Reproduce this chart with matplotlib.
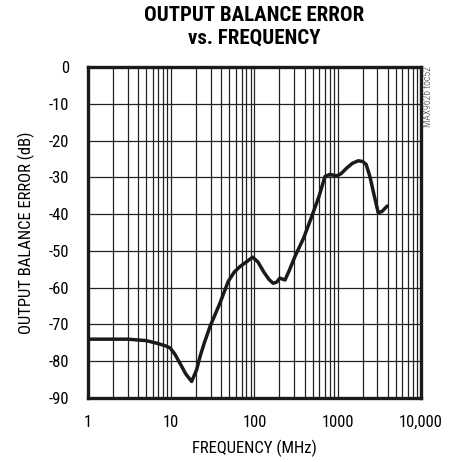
import matplotlib.pyplot as plt
from matplotlib.ticker import FixedLocator, NullFormatter

# Curve (frequency in MHz, error in dB)
freq_mhz = [1, 2, 3, 5, 6.7, 8.5, 9.7, 11, 12.7, 15, 17.6, 20.2, 22.2, 25, 29.2,
            38.5, 48.4, 57, 66.7, 80, 95, 110, 130, 150, 168, 185, 202, 233,
            260, 307, 390, 487, 600, 703, 807, 971, 1100, 1280, 1500, 1766,
            2000, 2200, 2440, 2750, 3070, 3400, 3940]
error_db = [-74, -74, -74, -74.4, -75.1, -75.8, -76.4, -78, -80.5, -83.5, -85.5,
            -82.3, -78.7, -75, -70.6, -64.2, -58.3, -55.8, -54.3, -53, -51.7,
            -53, -55.8, -57.8, -58.8, -58.5, -57.4, -57.9, -55.5, -51.5, -46.5,
            -40.7, -35, -29.8, -29.2, -29.6, -29, -27.5, -26.2, -25.5, -25.7,
            -26.5, -29.8, -35, -39.6, -39.3, -37.8]

x_tick_vals = [1, 10, 100, 1000, 10000]
x_tick_labels = ["1", "10", "100", "1000", "10,000"]
y_tick_vals = [0, -10, -20, -30, -40, -50, -60, -70, -80, -90]

plt.rcParams["font.family"] = ["Roboto Condensed", "DejaVu Sans"]
plt.rcParams["axes.unicode_minus"] = False

fig = plt.figure(figsize=(4.56, 4.62), dpi=100)
ax = fig.add_axes([0.193, 0.1385, 0.730, 0.7165])

ax.set_xscale("log")
ax.set_xlim(1, 10000)
ax.set_ylim(-90, 0)

# Full log grid: decade lines plus every minor line
ax.xaxis.set_minor_locator(FixedLocator([m * 10 ** d for d in range(4) for m in range(2, 10)]))
ax.xaxis.set_minor_formatter(NullFormatter())
ax.set_xticks(x_tick_vals)
ax.set_xticklabels(x_tick_labels)
ax.set_yticks(y_tick_vals)
ax.grid(True, which="both", axis="x", color="#222222", linewidth=0.9)
ax.grid(True, which="major", axis="y", color="#222222", linewidth=0.9)
ax.tick_params(which="both", length=0, labelsize=12)
ax.tick_params(axis="x", pad=12)
ax.tick_params(axis="y", pad=13.5)

for spine in ax.spines.values():
    spine.set_linewidth(2.4)
    spine.set_color("#1a1a1a")

ax.plot(freq_mhz, error_db, color="#1a1a1a", linewidth=2.5, solid_joinstyle="round",
        solid_capstyle="round", zorder=5)

ax.set_xlabel("FREQUENCY (MHz)", fontsize=12, labelpad=7)
ax.set_ylabel("OUTPUT BALANCE ERROR (dB)", fontsize=12, labelpad=10)

fig.text(0.558, 0.988, "OUTPUT BALANCE ERROR\nvs. FREQUENCY", ha="center", va="top",
         fontsize=15, fontweight="bold", linespacing=1.3)
fig.text(0.939, 0.856, "MAX9626 toc52", rotation=90, ha="center", va="top",
         fontsize=7, fontweight="light", color="#333333")

fig.savefig("out.png", dpi=100)
